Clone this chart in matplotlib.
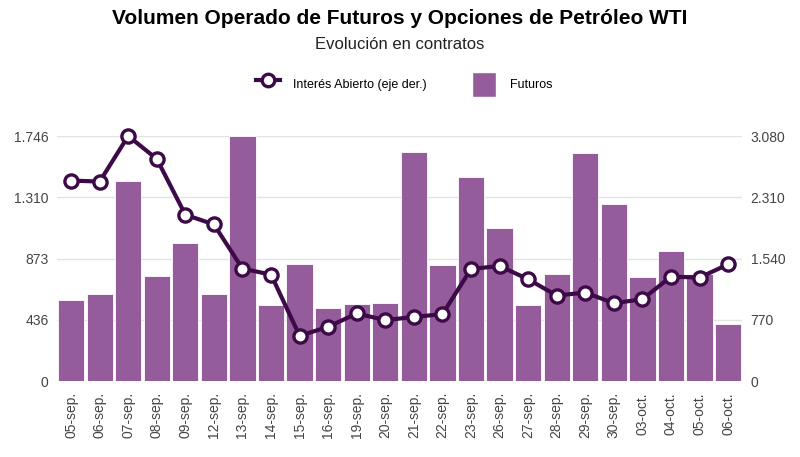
import matplotlib
matplotlib.use("Agg")
import matplotlib.pyplot as plt
from matplotlib.lines import Line2D
from matplotlib.patches import Patch
import numpy as np

plt.rcParams['font.family'] = ['Liberation Sans', 'DejaVu Sans']

fechas = ["05-sep.", "06-sep.", "07-sep.", "08-sep.", "09-sep.", "12-sep.",
          "13-sep.", "14-sep.", "15-sep.", "16-sep.", "19-sep.", "20-sep.",
          "21-sep.", "22-sep.", "23-sep.", "26-sep.", "27-sep.", "28-sep.",
          "29-sep.", "30-sep.", "03-oct.", "04-oct.", "05-oct.", "06-oct."]

futuros = [577, 620, 1425, 748, 983, 620, 1746, 542, 834, 520, 549, 556,
           1632, 827, 1454, 1090, 542, 763, 1625, 1261, 741, 926, 763, 406]

interes_abierto = [2520, 2507, 3080, 2792, 2090, 1968, 1413, 1337, 568, 681,
                   849, 765, 806, 840, 1408, 1446, 1279, 1074, 1112, 978,
                   1028, 1312, 1300, 1467]

ticks_izq = [0, 436, 873, 1310, 1746]
ticks_der = [0, 770, 1540, 2310, 3080]

color_barras = "#955C9B"
color_linea = "#3C0A46"
color_texto = "#444444"

fig = plt.figure(figsize=(8, 4.57), dpi=100)
ax = fig.add_axes([0.071, 0.1663, 0.857, 0.5361])
ax2 = ax.twinx()

x = np.arange(len(fechas))
ax.bar(x, futuros, width=0.92, color=color_barras, edgecolor="white", linewidth=0.6, zorder=2)
ax.set_xlim(-0.5, len(fechas) - 0.5)
ax.set_ylim(0, 1746)
ax.set_yticks(ticks_izq)
ax.set_yticklabels(["{:,}".format(t).replace(",", ".") for t in ticks_izq])
ax.grid(axis="y", color="#e3e3e3", linewidth=1, zorder=0)
ax.set_axisbelow(True)
ax.set_xticks(x)
ax.set_xticklabels(fechas, rotation=90)

ax2.plot(x, interes_abierto, color=color_linea, linewidth=3, marker="o",
         markersize=9.5, markerfacecolor="white", markeredgecolor=color_linea,
         markeredgewidth=2.4, clip_on=False, zorder=3)
ax2.set_ylim(0, 3080)
ax2.set_yticks(ticks_der)
ax2.set_yticklabels(["{:,}".format(t).replace(",", ".") for t in ticks_der])

for a in (ax, ax2):
    for s in a.spines.values():
        s.set_visible(False)
    a.tick_params(length=0, labelsize=10, labelcolor=color_texto, pad=6)
ax.tick_params(axis="x", pad=8)

fig.text(0.5, 0.96, "Volumen Operado de Futuros y Opciones de Petróleo WTI",
         ha="center", va="center", fontsize=15, fontweight="bold", color="black")
fig.text(0.5, 0.903, "Evolución en contratos", ha="center", va="center",
         fontsize=12, color="#222222")

handles = [Line2D([0], [0], color=color_linea, linewidth=3, marker="o",
                  markersize=9, markerfacecolor="white", markeredgecolor=color_linea,
                  markeredgewidth=2.4),
           Patch(facecolor=color_barras, edgecolor="white")]
fig.legend(handles, ["Interés Abierto (eje der.)", "Futuros"], loc="center",
           bbox_to_anchor=(0.505, 0.815), ncol=2, frameon=False, fontsize=9,
           handlelength=1.9, handleheight=2.7, columnspacing=3.6, handletextpad=1.1)

fig.savefig("out.png", dpi=100)
